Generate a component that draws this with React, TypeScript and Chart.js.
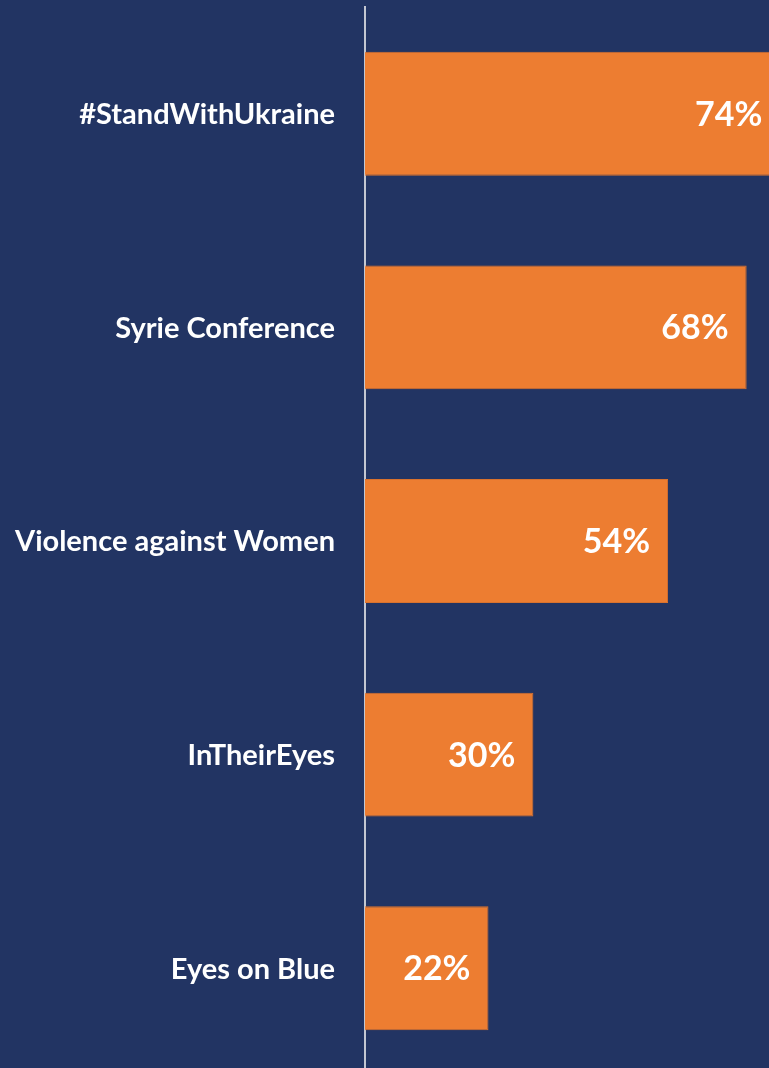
import React, { useEffect, useRef } from "react";
import { Chart, registerables } from "chart.js";

Chart.register(...registerables);

const categories = [
  "#StandWithUkraine",
  "Syrie Conference",
  "Violence against Women",
  "InTheirEyes",
  "Eyes on Blue",
];
const values = [74, 68, 54, 30, 22];
const valueLabels = ["74%", "68%", "54%", "30%", "22%"];

const NAVY = "#223463";
const ORANGE = "#ED7D31";

export default function App() {
  const ref = useRef<HTMLCanvasElement | null>(null);

  useEffect(() => {
    const canvas = ref.current;
    if (!canvas) return;

    const bgPlugin = {
      id: "bg",
      beforeDraw(chart: any) {
        const ctx = chart.ctx;
        ctx.save();
        ctx.fillStyle = NAVY;
        ctx.fillRect(0, 0, chart.width, chart.height);
        ctx.restore();
      },
    };

    const labelPlugin = {
      id: "valueLabels",
      afterDatasetsDraw(chart: any) {
        const ctx = chart.ctx;
        const meta = chart.getDatasetMeta(0);
        const yScale = chart.scales.y;
        ctx.save();
        ctx.fillStyle = "#FFFFFF";
        ctx.textBaseline = "middle";
        // category labels to the left of the axis
        ctx.font = "bold 29px Lato";
        ctx.textAlign = "right";
        categories.forEach((c, i) => {
          ctx.fillText(c, yScale.right - 30, yScale.getPixelForValue(i) + 1);
        });
        // value labels inside bar ends
        ctx.font = "bold 34px Lato";
        meta.data.forEach((bar: any, i: number) => {
          ctx.fillText(valueLabels[i], bar.x - 18, bar.y + 1);
        });
        ctx.restore();
      },
    };

    const chart = new Chart(canvas, {
      type: "bar",
      data: {
        labels: categories,
        datasets: [
          {
            data: values,
            backgroundColor: ORANGE,
            borderColor: "#D9722E",
            borderWidth: 1,
            borderSkipped: "left",
            categoryPercentage: 1,
            barPercentage: 0.58,
          },
        ],
      },
      options: {
        indexAxis: "y",
        animation: false,
        responsive: false,
        maintainAspectRatio: false,
        layout: { padding: { top: 7, left: 0, right: 0, bottom: 0 } },
        plugins: {
          legend: { display: false },
          tooltip: { enabled: false },
        },
        scales: {
          x: {
            display: false,
            min: 0,
            max: 80,
          },
          y: {
            grid: { display: false, drawTicks: false },
            border: { display: true, color: "#C3C7D2", width: 2 },
            ticks: { display: false },
            afterFit(scale: any) {
              scale.width = 365;
            },
          },
        },
      },
      plugins: [bgPlugin, labelPlugin],
    });

    return () => chart.destroy();
  }, []);

  return (
    <div
      style={{
        position: "fixed",
        left: 0,
        top: 0,
        width: 769,
        height: 1068,
        overflow: "hidden",
        background: NAVY,
      }}
    >
      <canvas
        ref={ref}
        width={814}
        height={1075}
        style={{ display: "block", width: 814, height: 1075 }}
      />
    </div>
  );
}
